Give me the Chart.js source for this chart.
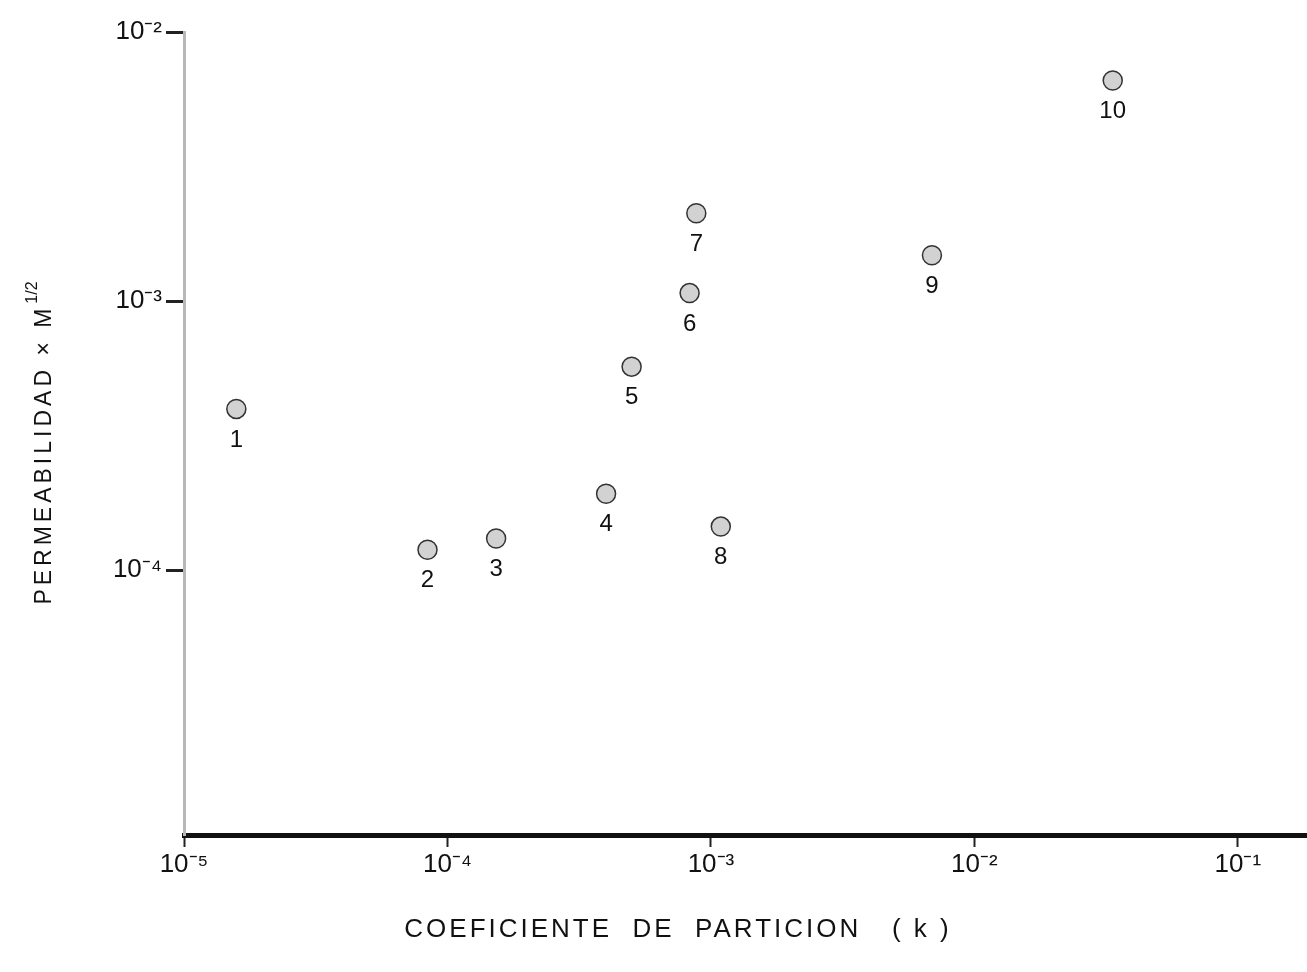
<!DOCTYPE html>
<html lang="es">
<head>
<meta charset="UTF-8">
<title>Permeabilidad vs coeficiente de partición</title>
<script src="https://cdn.jsdelivr.net/npm/chart.js"></script>
<style>
  html, body { margin: 0; padding: 0; background: #fff; overflow: hidden; }
  canvas { display: block; }
</style>
</head>
<body>
<canvas id="permChart" width="1307" height="972"></canvas>
<script>
// compuestos numerados 1..10
const labels = ['1', '2', '3', '4', '5', '6', '7', '8', '9', '10'];
// coeficiente de partición (k)
const kValues = [1.58e-5, 8.4e-5, 1.53e-4, 4.0e-4, 5.0e-4, 8.3e-4, 8.8e-4, 1.09e-3, 6.9e-3, 3.35e-2];
// permeabilidad x M^1/2
const permValues = [3.97e-4, 1.19e-4, 1.31e-4, 1.92e-4, 5.7e-4, 1.07e-3, 2.12e-3, 1.45e-4, 1.48e-3, 6.6e-3];
const xTicks = [1e-5, 1e-4, 1e-3, 1e-2, 1e-1];
const yTicks = [1e-4, 1e-3, 1e-2];

const FONT = '"Liberation Sans", Arial, sans-serif';
const sup = {'-': '⁻', '0': '⁰', '1': '¹', '2': '²', '3': '³', '4': '⁴', '5': '⁵'};

function powLabel(v) {
    const e = String(Math.round(Math.log10(v)));
    return '10' + e.split('').map(c => sup[c]).join('');
}

// numero de cada compuesto debajo de su punto
const pointNumbers = {
    id: 'pointNumbers',
    afterDatasetsDraw(chart) {
        const ctx = chart.ctx;
        const meta = chart.getDatasetMeta(0);
        ctx.save();
        ctx.font = '24px ' + FONT;
        ctx.fillStyle = '#111';
        ctx.textAlign = 'center';
        ctx.textBaseline = 'middle';
        meta.data.forEach((pt, i) => ctx.fillText(labels[i], pt.x, pt.y + 31));
        ctx.restore();
    }
};

// titulos de los ejes (espaciado de letras a mano)
const axisTitles = {
    id: 'axisTitles',
    afterDraw(chart) {
        const ctx = chart.ctx;
        const area = chart.chartArea;
        ctx.save();
        ctx.fillStyle = '#111';
        ctx.textBaseline = 'middle';

        ctx.font = '26px ' + FONT;
        ctx.letterSpacing = '3px';
        ctx.textAlign = 'center';
        ctx.fillText('COEFICIENTE  DE  PARTICION   ( k )', area.left + 494, 930);

        ctx.translate(45, (area.top + area.bottom) / 2 + 10);
        ctx.rotate(-Math.PI / 2);
        ctx.font = '23px ' + FONT;
        ctx.letterSpacing = '4px';
        ctx.textAlign = 'left';
        const main = 'PERMEABILIDAD × M';
        const w = ctx.measureText(main).width;
        ctx.font = '16px ' + FONT;
        ctx.letterSpacing = '0px';
        const sw = ctx.measureText('1/2').width;
        const start = -(w + sw) / 2;
        ctx.fillText('1/2', start + w + 1, -12);
        ctx.font = '23px ' + FONT;
        ctx.letterSpacing = '4px';
        ctx.fillText(main, start, 0);
        ctx.restore();
    }
};

const ctx = document.getElementById('permChart').getContext('2d');
const permChart = new Chart(ctx, {
    type: 'scatter',
    data: {
        datasets: [{
            data: kValues.map((k, i) => ({x: k, y: permValues[i]})),
            pointRadius: 9.5,
            pointHoverRadius: 9.5,
            backgroundColor: '#d2d2d2',
            borderColor: '#333',
            borderWidth: 1.5
        }]
    },
    options: {
        responsive: false,
        animation: false,
        // sin relleno automatico: el eje x llega hasta el borde derecho
        layout: { autoPadding: false, padding: { top: 32, right: 0, bottom: 0, left: 0 } },
        plugins: {
            legend: { display: false },
            tooltip: { enabled: false }
        },
        scales: {
            x: {
                type: 'logarithmic',
                min: 1e-5,
                max: 0.183,
                afterBuildTicks: s => { s.ticks = xTicks.map(v => ({value: v})); },
                afterFit: s => { s.height = 137; },
                border: { color: '#111', width: 5 },
                grid: { drawOnChartArea: false, tickLength: 12, tickColor: '#222', tickWidth: 2 },
                ticks: {
                    callback: v => powLabel(v),
                    font: { family: FONT, size: 26 },
                    color: '#111',
                    maxRotation: 0,
                    autoSkip: false,
                    padding: 2
                }
            },
            y: {
                type: 'logarithmic',
                min: 1.035e-5,
                max: 1e-2,
                afterBuildTicks: s => { s.ticks = yTicks.map(v => ({value: v})); },
                afterFit: s => { s.width = 184; },
                border: { color: '#b8b8b8', width: 3 },
                grid: { drawOnChartArea: false, tickLength: 18, tickColor: '#222', tickWidth: 3 },
                ticks: {
                    callback: v => powLabel(v),
                    font: { family: FONT, size: 26 },
                    color: '#111',
                    padding: 4
                }
            }
        }
    },
    plugins: [pointNumbers, axisTitles]
});
</script>
</body>
</html>
